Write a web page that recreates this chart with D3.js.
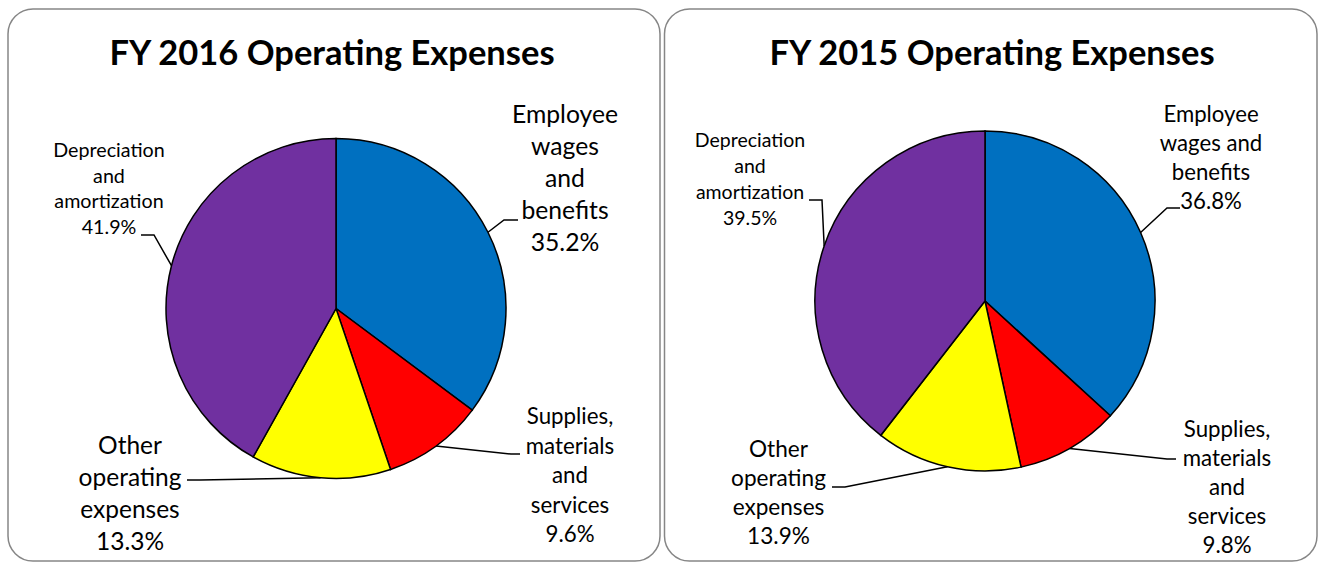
<!DOCTYPE html>
<html>
<head>
<meta charset="utf-8">
<script src="https://cdn.jsdelivr.net/npm/d3@7"></script>
<style>
  body { margin: 0; background: #fff; }
  text { font-family: Lato, "Open Sans", sans-serif; fill: #000; }
</style>
</head>
<body>
<div id="chart"></div>
<script>
var categories = ["Employee wages and benefits", "Supplies, materials and services",
                  "Other operating expenses", "Depreciation and amortization"];
var values2016 = [35.2, 9.6, 13.3, 41.9];
var values2015 = [36.8, 9.8, 13.9, 39.5];
var colours = ["#0070C0", "#FF0000", "#FFFF00", "#7030A0"];

// label text, line by line (the two charts break lines differently)
var lines2016 = [["Employee", "wages", "and", "benefits"],
                 ["Supplies,", "materials", "and", "services"],
                 ["Other", "operating", "expenses"],
                 ["Depreciation", "and", "amortization"]];
var lines2015 = [["Employee", "wages and", "benefits"],
                 ["Supplies,", "materials", "and", "services"],
                 ["Other", "operating", "expenses"],
                 ["Depreciation", "and", "amortization"]];

var width = 1320, height = 562, radius = 170;

var svg = d3.select("#chart").append("svg")
    .attr("width", width)
    .attr("height", height);

var panels = [
    {
        title: "FY 2016 Operating Expenses", values: values2016, lines: lines2016,
        box: {x: 8, y: 9, w: 652, h: 552}, titleX: 332, cx: 336, cy: 308.5,
        labels: [
            {x: 565, y: 123, size: 24.7, lh: 32, elbow: [504, 220], end: [518, 220]},
            {x: 570, y: 424, size: 22.3, lh: 29.5, elbow: [511, 454], end: [520, 454]},
            {x: 130, y: 454, size: 24.5, lh: 32, elbow: [200, 480], end: [187, 480]},
            {x: 109, y: 157, size: 19.7, lh: 25.7, elbow: [154, 235], end: [141, 235]}
        ]
    },
    {
        title: "FY 2015 Operating Expenses", values: values2015, lines: lines2015,
        box: {x: 664.5, y: 9, w: 652.5, h: 552}, titleX: 992, cx: 985, cy: 301,
        labels: [
            {x: 1211, y: 122, size: 22.2, lh: 29, elbow: [1167, 208], end: [1180, 208]},
            {x: 1227, y: 437, size: 22.3, lh: 29, elbow: [1167, 459], end: [1176, 459]},
            {x: 778.5, y: 457, size: 22.6, lh: 29, elbow: [845, 487], end: [832, 487]},
            {x: 750, y: 147, size: 19.5, lh: 26, elbow: [822, 200], end: [809, 200]}
        ]
    }
];

var pie = d3.pie().value(function(d) { return d; }).sort(null);
var arc = d3.arc().innerRadius(0).outerRadius(radius);
var edge = d3.arc().innerRadius(radius).outerRadius(radius);

panels.forEach(function(p) {
    svg.append("rect")
        .attr("x", p.box.x).attr("y", p.box.y)
        .attr("width", p.box.w).attr("height", p.box.h)
        .attr("rx", 25).attr("ry", 25)
        .attr("fill", "#fff")
        .attr("stroke", "#868686")
        .attr("stroke-width", 1.5);

    svg.append("text")
        .attr("x", p.titleX).attr("y", 65)
        .attr("text-anchor", "middle")
        .style("font-size", "34.5px")
        .style("font-weight", "bold")
        .text(p.title);

    var g = svg.append("g")
        .attr("transform", "translate(" + p.cx + "," + p.cy + ")");

    var arcs = pie(p.values);

    g.selectAll("path")
        .data(arcs)
        .enter().append("path")
        .attr("d", arc)
        .attr("fill", function(d, i) { return colours[i]; })
        .attr("stroke", "#000")
        .attr("stroke-width", 1.5);

    arcs.forEach(function(d, i) {
        var lab = p.labels[i];
        var c = edge.centroid(d);
        var pts = [[p.cx + c[0], p.cy + c[1]], lab.elbow, lab.end];
        svg.append("path")
            .attr("d", d3.line()(pts))
            .attr("fill", "none")
            .attr("stroke", "#000")
            .attr("stroke-width", 1.5);

        var txt = svg.append("text")
            .attr("text-anchor", "middle")
            .style("font-size", lab.size + "px");
        var rows = p.lines[i].concat([d3.format(".1f")(d.data) + "%"]);
        rows.forEach(function(r, k) {
            txt.append("tspan")
                .attr("x", lab.x)
                .attr("y", lab.y + k * lab.lh)
                .text(r);
        });
    });
});
</script>
</body>
</html>
